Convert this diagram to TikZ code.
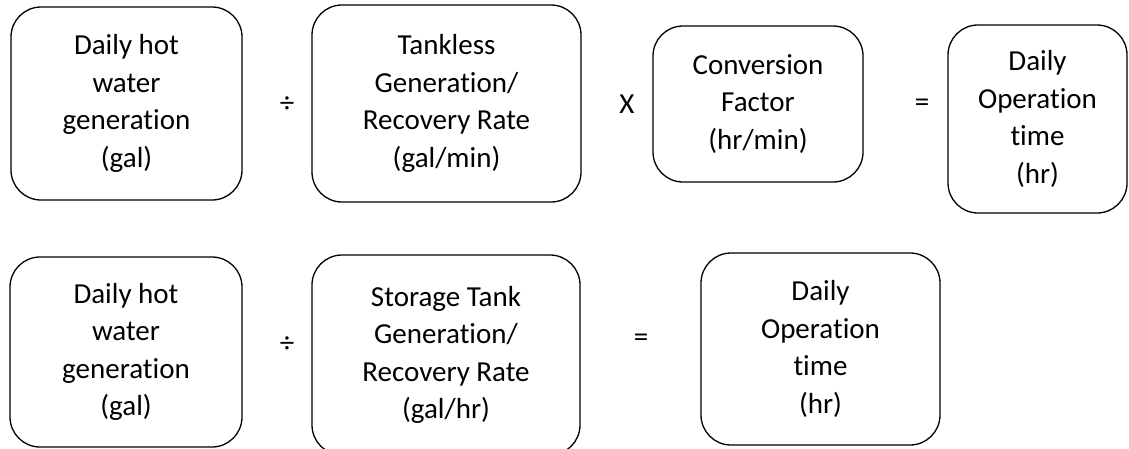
\documentclass[tikz,border=0pt]{standalone}
\usepackage{fontspec}
\setmainfont{Carlito}[Ligatures=NoCommon]

\tikzset{
  termbox/.style={draw, rounded corners=30pt, line width=1.3pt, align=center, inner sep=0pt},
  opsign/.style={inner sep=0pt}
}

\begin{document}
\begin{tikzpicture}[x=1pt, y=-1pt, font=\fontsize{29pt}{37.5pt}\selectfont]
\useasboundingbox (0,0) rectangle (1129,448);
\clip (0,0) rectangle (1129,448);

%tankless
\begin{scope}
\node[termbox, minimum width=231pt, minimum height=193pt] (hotA) at (126.5,103.5) {Daily hot\\water\\generation\\(gal)};
\node[opsign] (divA) at (287,105) {÷};
\node[termbox, minimum width=269pt, minimum height=197pt] (rateA) at (446.5,103.5) {Tankless\\Generation/\\Recovery Rate\\(gal/min)};
\node[opsign] (mulA) at (627,104) {X};
\node[termbox, minimum width=210pt, minimum height=156pt] (conv) at (758,104) {Conversion\\Factor\\(hr/min)};
\node[opsign] (eqA) at (922,105) {=};
\node[termbox, minimum width=179pt, minimum height=188pt] (timeA) at (1037.5,119) {Daily\\Operation\\time\\(hr)};
\end{scope}

%storage tank
\begin{scope}
\node[termbox, minimum width=232pt, minimum height=190pt] (hotB) at (126,352) {Daily hot\\water\\generation\\(gal)};
\node[opsign] (divB) at (287,345) {÷};
\node[termbox, minimum width=268pt, minimum height=200pt] (rateB) at (446,355) {Storage Tank\\Generation/\\Recovery Rate\\(gal/hr)};
\node[opsign] (eqB) at (641,340) {=};
\node[termbox, minimum width=239pt, minimum height=192pt] (timeB) at (820.5,349) {Daily\\Operation\\time\\(hr)};
\end{scope}
\end{tikzpicture}
\end{document}
